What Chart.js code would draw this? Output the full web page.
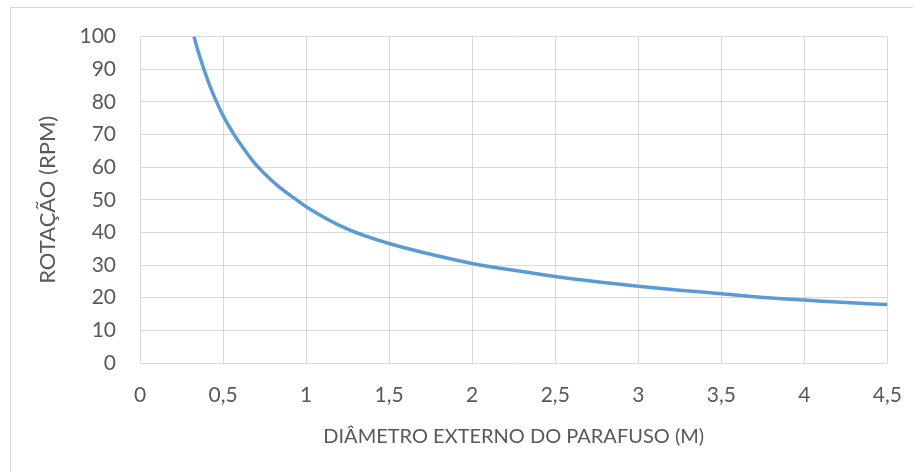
<!DOCTYPE html>
<html>
<head>
<meta charset="utf-8">
<script src="https://cdn.jsdelivr.net/npm/chart.js@4"></script>
<style>
  html, body { margin: 0; padding: 0; background: #fff; }
  #wrap { position: relative; width: 922px; height: 472px; overflow: hidden; }
  #frame {
    position: absolute; left: 10px; top: 7px; width: 902px; height: 600px;
    border-top: 1px solid #d9d9d9; border-left: 1px solid #d9d9d9;
  }
  canvas { position: absolute; left: 0; top: 0; }
</style>
</head>
<body>
<div id="wrap">
  <div id="frame"></div>
  <canvas id="chart" width="922" height="472"></canvas>
</div>
<script>
// Diâmetro externo (m) x rotação (rpm)
const diametro = [0.325, 0.35, 0.385, 0.42, 0.461, 0.5, 0.571, 0.6, 0.69, 0.75, 0.841, 0.942,
  1.0, 1.25, 1.5, 1.75, 2.0, 2.25, 2.5, 2.75, 3.0, 3.25, 3.5, 3.75, 4.0, 4.25, 4.5];
const rotacao = [100, 95.5, 90, 85, 80, 75.8, 69.6, 67.4, 61.2, 58, 53.8, 50,
  47.9, 41, 36.6, 33.3, 30.5, 28.4, 26.5, 24.9, 23.5, 22.3, 21.2, 20.1, 19.3, 18.5, 17.9];

const xTicks = [0, 0.5, 1, 1.5, 2, 2.5, 3, 3.5, 4, 4.5];
const yTicks = [0, 10, 20, 30, 40, 50, 60, 70, 80, 90, 100];

const FONT = 'Lato, "Open Sans", sans-serif';
const GRID = '#d9d9d9';
const TXT = '#595959';

new Chart(document.getElementById('chart'), {
  type: 'scatter',
  data: {
    datasets: [{
      data: diametro.map((d, i) => ({ x: d, y: rotacao[i] })),
      showLine: true,
      borderColor: '#5b9bd5',
      borderWidth: 3.5,
      pointRadius: 0,
      cubicInterpolationMode: 'monotone',
    }],
  },
  options: {
    responsive: false, animation: false,
    layout: { padding: { left: 0, top: 36, right: 33, bottom: 0 } },
    plugins: { legend: { display: false }, tooltip: { enabled: false } },
    scales: {
      x: {
        type: 'linear', min: 0, max: 4.5,
        afterBuildTicks: (s) => { s.ticks = xTicks.map(v => ({ value: v })); },
        afterFit: (s) => { s.height = 109; },
        grid: { color: GRID, lineWidth: 1, drawTicks: false },
        border: { display: false },
        ticks: {
          color: TXT, font: { family: FONT, size: 21 }, padding: 20, maxRotation: 0,
          callback: (v) => String(v).replace('.', ','),
        },
        title: {
          display: true, text: 'DIÂMETRO EXTERNO DO PARAFUSO (M)',
          color: TXT, font: { family: FONT, size: 20 }, padding: { top: 0, bottom: 23 },
        },
      },
      y: {
        min: 0, max: 100,
        afterBuildTicks: (s) => { s.ticks = yTicks.map(v => ({ value: v })); },
        afterFit: (s) => { s.width = 140; },
        grid: { color: GRID, lineWidth: 1, drawTicks: false },
        border: { display: false },
        ticks: { color: TXT, font: { family: FONT, size: 21 }, padding: 24 },
        title: {
          display: true, text: 'ROTAÇÃO (RPM)',
          color: TXT, font: { family: FONT, size: 22 }, padding: { top: 35, bottom: 0 },
        },
      },
    },
  },
});
</script>
</body>
</html>
